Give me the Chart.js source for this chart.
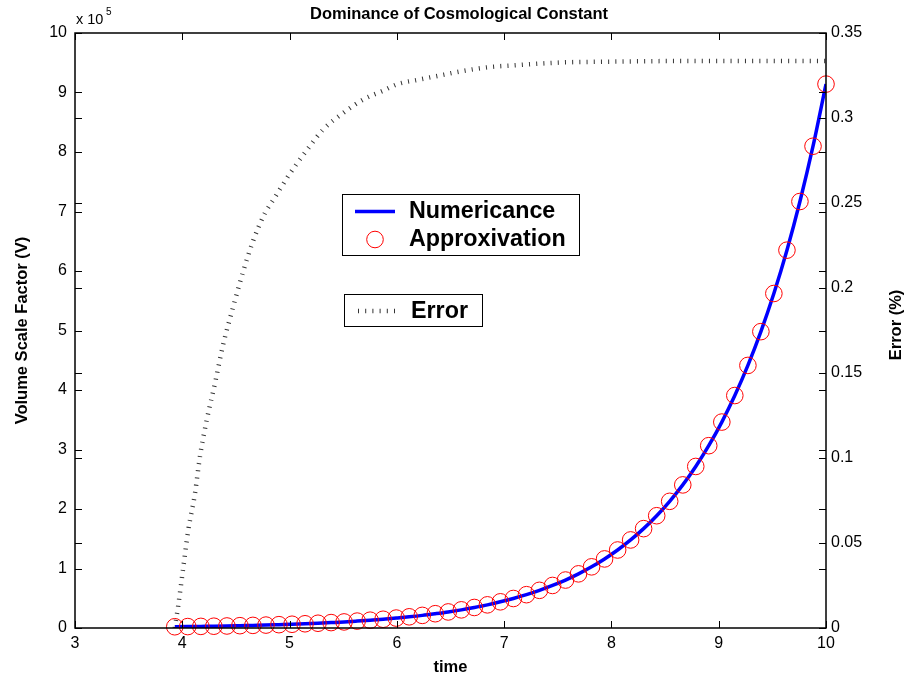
<!DOCTYPE html>
<html>
<head>
<meta charset="utf-8">
<script src="https://cdn.jsdelivr.net/npm/chart.js@4.4.1/dist/chart.umd.min.js"></script>
<style>
html,body{margin:0;padding:0;background:#ffffff;}
#wrap{position:relative;width:904px;height:679px;}
</style>
</head>
<body>
<div id="wrap"><canvas id="c" width="904" height="679"></canvas></div>
<script>
// ---- data ----
const timeValues = [3.930, 4.051, 4.173, 4.294, 4.416, 4.537, 4.658, 4.780, 4.901, 5.023,
  5.144, 5.265, 5.387, 5.508, 5.630, 5.751, 5.872, 5.994, 6.115, 6.237,
  6.358, 6.479, 6.601, 6.722, 6.844, 6.965, 7.086, 7.208, 7.329, 7.451,
  7.572, 7.693, 7.815, 7.936, 8.058, 8.179, 8.300, 8.422, 8.543, 8.665,
  8.786, 8.907, 9.029, 9.150, 9.272, 9.393, 9.514, 9.636, 9.757, 9.879, 10.000];
// volume scale factor, in units of 10^5
const volumeValues = [0.021, 0.024, 0.027, 0.030, 0.034, 0.039, 0.044, 0.049, 0.056, 0.063,
  0.071, 0.080, 0.091, 0.102, 0.116, 0.131, 0.147, 0.167, 0.188, 0.212,
  0.240, 0.270, 0.305, 0.345, 0.389, 0.440, 0.496, 0.560, 0.633, 0.715,
  0.806, 0.910, 1.028, 1.161, 1.311, 1.480, 1.670, 1.887, 2.129, 2.405,
  2.715, 3.064, 3.461, 3.907, 4.413, 4.981, 5.622, 6.350, 7.168, 8.097, 9.141];
const errorTimes = [3.930, 3.963, 4.010, 4.056, 4.118, 4.165, 4.227, 4.305, 4.382, 4.475,
  4.569, 4.662, 4.770, 4.850, 5.000, 5.160, 5.310, 5.500, 5.690, 5.870,
  6.010, 6.200, 6.400, 6.600, 6.870, 7.100, 7.330, 7.600, 7.800, 8.200,
  8.600, 9.000, 9.500, 10.000];
const errorValues = [0.000, 0.0135, 0.036, 0.0576, 0.079, 0.101, 0.122, 0.144, 0.167, 0.189,
  0.210, 0.228, 0.244, 0.252, 0.267, 0.281, 0.293, 0.303, 0.311, 0.316,
  0.320, 0.3225, 0.325, 0.3275, 0.330, 0.331, 0.332, 0.3328, 0.333, 0.3333,
  0.3335, 0.3335, 0.3335, 0.3335];
const xTickLabels = ['3', '4', '5', '6', '7', '8', '9', '10'];
const volumeTickLabels = ['0', '1', '2', '3', '4', '5', '6', '7', '8', '9', '10'];
const errorTickLabels = ['0', '0.05', '0.1', '0.15', '0.2', '0.25', '0.3', '0.35'];
const titleText = 'Dominance of Cosmological Constant';
const seriesNames = ['Numericance', 'Approxivation', 'Error'];

const FONT = "'Liberation Sans', Arial, sans-serif";
const ERR_DASH = [1, 6.2];

const pts = (xs, ys) => xs.map((x, i) => ({x: x, y: ys[i]}));

const decorPlugin = {
  id: 'decor',
  afterDraw(chart) {
    const ctx = chart.ctx;
    const a = chart.chartArea;
    const xs = chart.scales.x, yl = chart.scales.y, yr = chart.scales.y1;
    ctx.save();
    // frame
    ctx.strokeStyle = '#000';
    ctx.lineWidth = 1.5;
    ctx.strokeRect(a.left, a.top, a.right - a.left, a.bottom - a.top);
    // inward ticks
    ctx.lineWidth = 1;
    const TL = 7;
    ctx.beginPath();
    xs.ticks.forEach(t => {
      const px = Math.round(xs.getPixelForValue(t.value)) + 0.5;
      ctx.moveTo(px, a.bottom); ctx.lineTo(px, a.bottom - TL);
      ctx.moveTo(px, a.top); ctx.lineTo(px, a.top + TL);
    });
    [yl, yr].forEach(s => {
      s.ticks.forEach(t => {
        const py = Math.round(s.getPixelForValue(t.value)) + 0.5;
        ctx.moveTo(a.left, py); ctx.lineTo(a.left + TL, py);
        ctx.moveTo(a.right, py); ctx.lineTo(a.right - TL, py);
      });
    });
    ctx.stroke();

    // title
    ctx.fillStyle = '#000';
    ctx.font = 'bold 16.5px ' + FONT;
    ctx.textAlign = 'center';
    ctx.textBaseline = 'alphabetic';
    ctx.fillText(titleText, 459, 19);
    // exponent label
    ctx.textAlign = 'left';
    ctx.font = '14.5px ' + FONT;
    ctx.fillText('x 10', 76, 24);
    ctx.font = '10px ' + FONT;
    ctx.fillText('5', 106, 15);
    // right axis title
    ctx.save();
    ctx.translate(896, 325);
    ctx.rotate(-Math.PI / 2);
    ctx.font = 'bold 16.5px ' + FONT;
    ctx.textAlign = 'center';
    ctx.textBaseline = 'middle';
    ctx.fillText('Error (%)', 0, 0);
    ctx.restore();

    // legend box 1
    ctx.fillStyle = '#fff';
    ctx.fillRect(342.5, 194.5, 237, 61);
    ctx.strokeStyle = '#000';
    ctx.lineWidth = 1;
    ctx.strokeRect(342.5, 194.5, 237, 61);
    ctx.strokeStyle = '#0000ff';
    ctx.lineWidth = 3.5;
    ctx.beginPath(); ctx.moveTo(355, 211.5); ctx.lineTo(395, 211.5); ctx.stroke();
    ctx.strokeStyle = '#ff0000';
    ctx.lineWidth = 1;
    ctx.beginPath(); ctx.arc(375, 239.5, 8.3, 0, Math.PI * 2); ctx.stroke();
    ctx.fillStyle = '#000';
    ctx.font = 'bold 23.3px ' + FONT;
    ctx.textAlign = 'left';
    ctx.textBaseline = 'middle';
    ctx.fillText(seriesNames[0], 409, 212);
    ctx.fillText(seriesNames[1], 409, 240);
    // legend box 2
    ctx.fillStyle = '#fff';
    ctx.fillRect(344.5, 294.5, 138, 32);
    ctx.strokeStyle = '#000';
    ctx.lineWidth = 1;
    ctx.strokeRect(344.5, 294.5, 138, 32);
    ctx.strokeStyle = '#333';
    ctx.lineWidth = 4.5;
    ctx.setLineDash(ERR_DASH);
    ctx.lineCap = 'butt';
    ctx.beginPath(); ctx.moveTo(358, 311); ctx.lineTo(398, 311); ctx.stroke();
    ctx.setLineDash([]);
    ctx.fillStyle = '#000';
    ctx.font = 'bold 23.3px ' + FONT;
    ctx.fillText(seriesNames[2], 411, 312);
    ctx.restore();
  }
};

Chart.defaults.font.family = FONT;
Chart.defaults.color = '#000';

new Chart(document.getElementById('c'), {
  type: 'line',
  data: {
    datasets: [
      {
        label: seriesNames[1],
        data: pts(timeValues, volumeValues),
        yAxisID: 'y',
        showLine: false,
        pointStyle: 'circle',
        pointRadius: 8.3,
        pointHoverRadius: 8.3,
        pointBorderWidth: 1,
        pointBorderColor: '#ff0000',
        pointBackgroundColor: 'rgba(0,0,0,0)',
        clip: false
      },
      {
        label: seriesNames[0],
        data: pts(timeValues, volumeValues),
        yAxisID: 'y',
        borderColor: '#0000ff',
        borderWidth: 3.5,
        pointRadius: 0,
        cubicInterpolationMode: 'monotone',
        fill: false
      },
      {
        label: seriesNames[2],
        data: pts(errorTimes, errorValues),
        yAxisID: 'y1',
        borderColor: '#333333',
        borderWidth: 4.5,
        borderDash: ERR_DASH,
        borderCapStyle: 'butt',
        pointRadius: 0,
        cubicInterpolationMode: 'monotone',
        fill: false
      }
    ]
  },
  options: {
    responsive: false,
    animation: false,
    devicePixelRatio: 1,
    layout: {padding: {top: 33, left: 0, right: 0, bottom: 0}},
    plugins: {legend: {display: false}, title: {display: false}, tooltip: {enabled: false}},
    scales: {
      x: {
        type: 'linear', position: 'bottom', min: 3, max: 10,
        afterFit: s => { s.height = 51; },
        grid: {display: false, drawTicks: false},
        border: {display: false},
        ticks: {stepSize: 1, padding: 6, font: {size: 16}, color: '#000',
          callback: v => xTickLabels[Math.round(v - 3)]},
        title: {display: true, text: 'time', font: {size: 16.5, weight: 'bold'}, color: '#000',
          padding: {top: 0, bottom: 2}}
      },
      y: {
        type: 'linear', position: 'left', min: 0, max: 10,
        afterFit: s => { s.width = 75; },
        grid: {display: false, drawTicks: false},
        border: {display: false},
        ticks: {stepSize: 1, padding: 8, font: {size: 16}, color: '#000',
          callback: v => volumeTickLabels[Math.round(v)]},
        title: {display: true, text: 'Volume Scale Factor (V)', font: {size: 16.5, weight: 'bold'}, color: '#000',
          padding: {top: 13, bottom: 0}}
      },
      y1: {
        type: 'linear', position: 'right', min: 0, max: 0.35,
        afterFit: s => { s.width = 78; },
        grid: {display: false, drawTicks: false},
        border: {display: false},
        ticks: {stepSize: 0.05, padding: 5, font: {size: 16}, color: '#000',
          callback: v => errorTickLabels[Math.round(v / 0.05)]}
      }
    }
  },
  plugins: [decorPlugin]
});
</script>
</body>
</html>
